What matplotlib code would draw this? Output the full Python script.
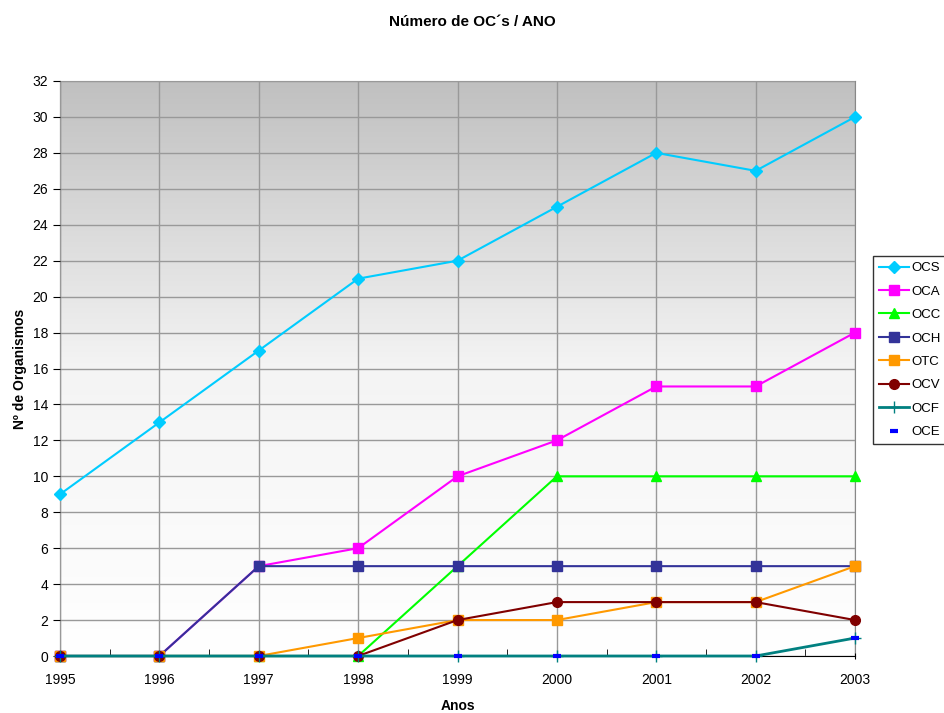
import numpy as np
import matplotlib
matplotlib.use("Agg")
import matplotlib.pyplot as plt
from matplotlib.ticker import MultipleLocator
from matplotlib.colors import LinearSegmentedColormap

plt.rcParams['font.family'] = ['Liberation Sans', 'DejaVu Sans']

years = [1995, 1996, 1997, 1998, 1999, 2000, 2001, 2002, 2003]
ocs = [9, 13, 17, 21, 22, 25, 28, 27, 30]
oca = [0, 0, 5, 6, 10, 12, 15, 15, 18]
occ = [0, 0, 0, 0, 5, 10, 10, 10, 10]
och = [0, 0, 5, 5, 5, 5, 5, 5, 5]
otc = [0, 0, 0, 1, 2, 2, 3, 3, 5]
ocv = [0, 0, 0, 0, 2, 3, 3, 3, 2]
ocf = [0, 0, 0, 0, 0, 0, 0, 0, 1]
oce = [0, 0, 0, 0, 0, 0, 0, 0, 1]

fig = plt.figure(figsize=(9.45, 7.13), dpi=100)
ax = fig.add_axes([60/945, 1-656/713, (855-60)/945, (656-81)/713])

# gradient background: grey at top fading to white at the bottom
grad = np.linspace(0, 1, 256).reshape(-1, 1)
cmap = LinearSegmentedColormap.from_list("bg", ["#ffffff", "#f4f4f4", "#c0c0c0"])
ax.imshow(grad, aspect='auto', cmap=cmap, origin='lower',
          extent=[1995, 2003, 0, 32], zorder=0)

ax.set_xlim(1995, 2003)
ax.set_ylim(0, 32)
ax.yaxis.set_major_locator(MultipleLocator(2))
ax.xaxis.set_major_locator(MultipleLocator(1))
ax.xaxis.set_minor_locator(MultipleLocator(0.5))
ax.grid(True, which='major', color='#999999', linewidth=1, zorder=1)
ax.set_axisbelow(False)
for s in ['top', 'right']:
    ax.spines[s].set_color('#888888')
for s in ['left', 'bottom']:
    ax.spines[s].set_color('#000000')
ax.tick_params(axis='both', labelsize=10, length=5, direction='out')
ax.tick_params(axis='x', which='minor', length=5, direction='in')
ax.tick_params(axis='x', which='major', length=5, direction='inout', pad=10)

kw = dict(linewidth=1.5, markersize=7, zorder=3, clip_on=False)
ax.plot(years, ocs, color='#00ccff', marker='D', markersize=6, label='OCS',
        linewidth=1.5, zorder=3, clip_on=False)
ax.plot(years, oca, color='#ff00ff', marker='s', label='OCA', **kw)
ax.plot(years, occ, color='#00ff00', marker='^', label='OCC', **kw)
ax.plot(years, och, color='#333399', marker='s', label='OCH', **kw)
ax.plot(years, otc, color='#ff9900', marker='s', label='OTC', **kw)
ax.plot(years, ocv, color='#800000', marker='o', label='OCV', **kw)
ax.plot(years, ocf, color='#008080', marker='+', markersize=9, label='OCF',
        linewidth=2, zorder=3, clip_on=False)
ax.plot(years, oce, color='#0000ff', marker='_', markersize=6, markeredgewidth=3,
        linestyle='none', label='OCE', zorder=4, clip_on=False)

fig.text(0.5, 1-22/713, 'Número de OC´s / ANO', ha='center', va='center',
         fontsize=11, fontweight='bold')
ax.set_xlabel('Anos', fontsize=10, fontweight='bold', labelpad=8.5)
ax.set_ylabel('Nº de Organismos', fontsize=10, fontweight='bold', labelpad=4)

leg = fig.legend(loc='upper left', bbox_to_anchor=(873/945, 1-256/713),
                 fontsize=9.5, frameon=True, fancybox=False, edgecolor='black',
                 handlelength=2.3, labelspacing=0.85, borderpad=0.45,
                 borderaxespad=0, handletextpad=0.15)
leg.get_frame().set_linewidth(1)

fig.savefig('out.png', dpi=100)
